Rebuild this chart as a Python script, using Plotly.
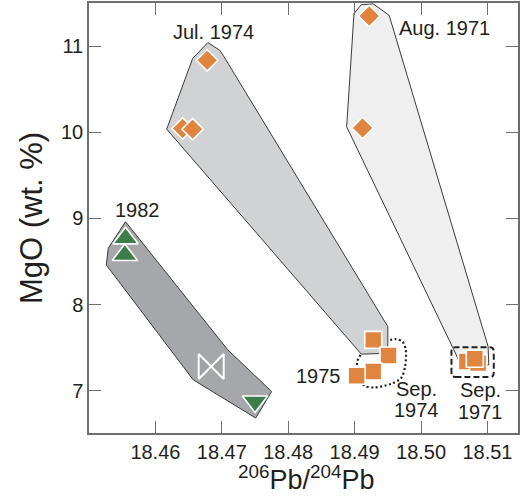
import plotly.graph_objects as go

# ---- data ----
jul1974_x = [18.4678, 18.4641, 18.4656]
jul1974_y = [10.835, 10.044, 10.036]
aug1971_x = [18.4922, 18.4912]
aug1971_y = [11.349, 10.050]
sep1974_x = [18.4928, 18.4951, 18.4928, 18.4903]
sep1974_y = [7.591, 7.409, 7.224, 7.174]
sep1971_x = [18.5069, 18.5086, 18.5081]
sep1971_y = [7.340, 7.321, 7.371]
y1982_up_x = [18.4555, 18.4554]
y1982_up_y = [8.769, 8.576]
y1982_down_x = [18.4750]
y1982_down_y = [6.876]
bowtie_x = [18.4684]
bowtie_y = [7.282]

# field polygons
poly_jul_x = [18.4679, 18.4697, 18.4702, 18.4950, 18.4950, 18.4910, 18.4617, 18.4656]
poly_jul_y = [11.041, 10.951, 10.893, 7.745, 7.435, 7.425, 10.036, 10.855]
poly_aug_x = [18.4899, 18.4910, 18.4928, 18.4938, 18.4952, 18.5101, 18.5102, 18.5061, 18.5053, 18.4888]
poly_aug_y = [11.377, 11.48, 11.49, 11.434, 11.357, 7.513, 7.30, 7.267, 7.417, 10.063]
poly_82_x = [18.4555, 18.4709, 18.4775, 18.4751, 18.4657, 18.4526, 18.4529]
poly_82_y = [8.962, 7.475, 6.992, 6.684, 7.127, 8.460, 8.654]

loop_x = [18.4909, 18.4904, 18.4905, 18.4915, 18.4930, 18.4955, 18.4970, 18.4976, 18.4977, 18.4972, 18.4962, 18.4950]
loop_y = [7.417, 7.340, 7.200, 7.058, 7.038, 7.081, 7.147, 7.282, 7.475, 7.571, 7.599, 7.583]

box71_x = [18.50458, 18.51095]
box71_y = [7.159, 7.506]

x_ticks = [18.46, 18.47, 18.48, 18.49, 18.50, 18.51]
x_ticklabels = ["18.46", "18.47", "18.48", "18.49", "18.50", "18.51"]
y_ticks = [7, 8, 9, 10, 11]

ORANGE = "#df8540"
GREEN = "#3e7d49"
EDGE = "#3a3a3a"
TXT = "#231f20"
FONT = "Liberation Sans, Arial, sans-serif"

fig = go.Figure()

def poly(xs, ys, fill):
    fig.add_trace(go.Scatter(x=xs + xs[:1], y=ys + ys[:1], mode="lines", fill="toself",
                             fillcolor=fill, line=dict(color=EDGE, width=1),
                             hoverinfo="skip", showlegend=False))

poly(poly_aug_x, poly_aug_y, "#efefef")
poly(poly_jul_x, poly_jul_y, "#d1d2d4")
poly(poly_82_x, poly_82_y, "#a6a7aa")

fig.add_trace(go.Scatter(x=loop_x, y=loop_y, mode="lines",
                         line=dict(color="#222", width=2.2, dash="2px,2.5px", shape="spline", smoothing=0.8),
                         showlegend=False, hoverinfo="skip"))

# rounded dashed box around Sep 1971
bx0, bx1 = box71_x
by0, by1 = box71_y
rx, ry = 0.0006, 0.05
fig.add_shape(type="path",
              path=(f"M{bx0+rx},{by0} L{bx1-rx},{by0} Q{bx1},{by0} {bx1},{by0+ry} "
                    f"L{bx1},{by1-ry} Q{bx1},{by1} {bx1-rx},{by1} L{bx0+rx},{by1} "
                    f"Q{bx0},{by1} {bx0},{by1-ry} L{bx0},{by0+ry} Q{bx0},{by0} {bx0+rx},{by0} Z"),
              line=dict(color="#222", width=2, dash="6px,3px"), layer="above")

def pts(xs, ys, sym, color, size, lw=1.6):
    fig.add_trace(go.Scatter(x=xs, y=ys, mode="markers",
                             marker=dict(symbol=sym, color=color, size=size,
                                         line=dict(color="white", width=lw)),
                             showlegend=False))

pts(jul1974_x, jul1974_y, "diamond", ORANGE, 16.5)
pts(aug1971_x, aug1971_y, "diamond", ORANGE, 16.5)
pts(sep1974_x, sep1974_y, "square", ORANGE, 17)
pts(sep1971_x, sep1971_y, "square", ORANGE, 17)
pts(y1982_up_x, y1982_up_y, "triangle-up", GREEN, 22)
pts(y1982_down_x, y1982_down_y, "triangle-down", GREEN, 22)
pts(bowtie_x, bowtie_y, "bowtie", "#a0a1a4", 25, lw=2)

ann = [
    ("Jul. 1974", 18.46873, 11.16, "center"),
    ("Aug. 1971", 18.50357, 11.212, "center"),
    ("1982", 18.45726, 9.097, "center"),
    ("1975", 18.48822, 7.174, "right"),
    ("Sep.", 18.49928, 7.02, "center"),
    ("1974", 18.49928, 6.78, "center"),
    ("Sep.", 18.5090, 7.01, "center"),
    ("1971", 18.5090, 6.75, "center"),
]
for t, x, y, xa in ann:
    fig.add_annotation(x=x, y=y, text=t, showarrow=False, xanchor=xa, yanchor="middle",
                       font=dict(family=FONT, size=20, color=TXT))

# axis titles as paper-anchored annotations
fig.add_annotation(xref="paper", yref="paper", x=0.507, y=-0.105, xanchor="center", yanchor="middle",
                   text="<sup>206</sup>Pb/<sup>204</sup>Pb", showarrow=False,
                   font=dict(family=FONT, size=27, color=TXT))
fig.add_annotation(xref="paper", yref="paper", x=-0.135, y=0.50, xanchor="center", yanchor="middle",
                   text="MgO (wt. %)", textangle=-90, showarrow=False,
                   font=dict(family=FONT, size=31, color=TXT))

axis_common = dict(showgrid=False, zeroline=False, showline=True, linecolor="#6d6e71", linewidth=1.5,
                   mirror="ticks", ticks="inside", ticklen=12, tickwidth=1.2, tickcolor="#6d6e71",
                   automargin=False, tickfont=dict(family=FONT, size=20, color=TXT))

fig.update_layout(
    width=525, height=498,
    margin=dict(l=89, r=7, t=3, b=65),
    plot_bgcolor="white", paper_bgcolor="white",
    xaxis=dict(range=[18.450, 18.5146], tickvals=x_ticks, ticktext=x_ticklabels, **axis_common),
    yaxis=dict(range=[6.51, 11.5], tickvals=y_ticks, **axis_common),
)

fig.write_html("out.html", config={"displayModeBar": False},
               post_script="document.body.style.margin='0';")
